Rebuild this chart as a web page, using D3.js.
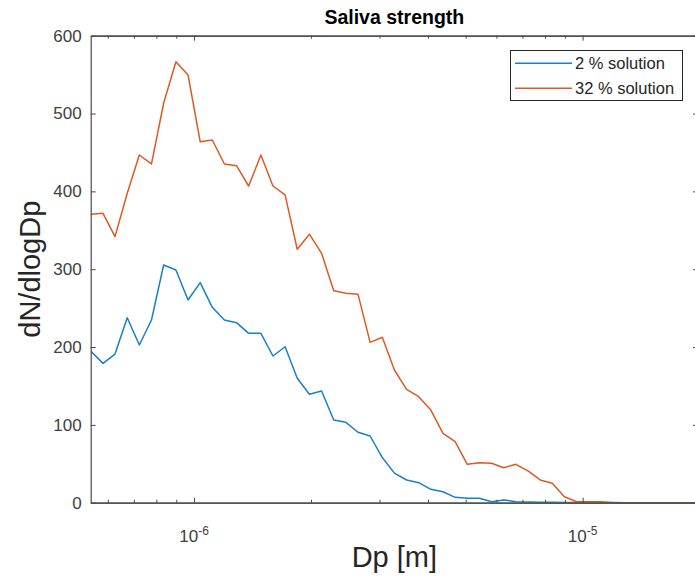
<!DOCTYPE html>
<html><head><meta charset="utf-8">
<script src="https://cdn.jsdelivr.net/npm/d3@7"></script>
<style>
body{margin:0;background:#fff}
svg{display:block}
text{font-family:"Liberation Sans",Arial,Helvetica,sans-serif}
</style>
</head><body>
<svg id="chart" width="695" height="579"></svg>
<script>
// ---- data ----
const diametersUm = [0.542,0.583,0.626,0.673,0.723,0.777,0.835,0.898,0.965,1.037,
  1.114,1.197,1.286,1.382,1.486,1.596,1.715,1.843,1.981,2.129,
  2.288,2.458,2.642,2.839,3.051,3.278,3.523,3.786,4.068,4.371,
  4.698,5.048,5.425,5.829,6.264,6.732,7.234,7.774,8.354,8.977,
  9.647,10.37,11.14,11.97,12.86,13.82,14.86,15.96,17.15,18.43,19.81];
const solution2 = [194.9,179,191,237.7,202.6,234.7,305.4,299,260.4,282.7,
  251,234.7,231.3,217.6,217.6,188.5,200.4,159.8,139.3,143.5,
  106.3,103.3,90.5,85.7,58,38,29.2,25.7,17.2,14.1,
  6.9,5.7,5.7,1.3,3.5,1.3,0.8,0.6,0.5,0.4,
  0.3,0.2,0.2,0.1,0,0,0,0,0,0,0];
const solution32 = [370.5,371.8,341.8,397.5,446.7,435.2,513.2,566.6,549.5,463.8,
  466,435.2,433,406.9,446.7,406.9,395.4,325.6,345,320.4,
  272.4,269,267.7,206,212.5,170.5,145.7,136.2,119,89,
  78.4,49.3,51.4,50.6,45,49.3,41,29.2,24.9,7.7,
  1.3,1.3,1.3,0,0,0,0,0,0,0,0];
const seriesNames = ["2 % solution","32 % solution"];
const seriesColors = ["#1a7fc6","#DE5a22"];
const yTicks = [0,100,200,300,400,500,600];
const xMajorTicks = [1e-6,1e-5];
const xMajorExponents = ["-6","-5"];
const xMinorTicks = [6e-7,7e-7,8e-7,9e-7,2e-6,3e-6,4e-6,5e-6,6e-6,7e-6,8e-6,9e-6];
const titleText = "Saliva strength";
const xLabel = "Dp [m]";
const yLabel = "dN/dlogDp";

// ---- layout ----
const L = 90.7, R = 698, T = 35.7, B = 502.7;
const axisColor = "#4a4a4a";
const svg = d3.select("#chart");

const dp = diametersUm.map(d => d * 1e-6);
const x = d3.scaleLog().domain([0.542e-6, 19.81e-6]).range([L, R]);
const y = d3.scaleLinear().domain([0, 600]).range([B, T]);

// clip
svg.append("defs").append("clipPath").attr("id","clip")
  .append("rect").attr("x",L).attr("y",T).attr("width",R-L).attr("height",B-T);

// lines
const series = [solution2, solution32];
const line = d3.line().x((d,i) => x(dp[i])).y(d => y(d));
const g = svg.append("g").attr("clip-path","url(#clip)");
series.forEach((s, k) => {
  g.append("path").datum(s).attr("d", line)
    .attr("fill","none").attr("stroke",seriesColors[k])
    .attr("stroke-width",1.5).attr("stroke-linejoin","round");
});

// axes box via d3 axes
const majLen = 5, minLen = 3;
const axB = svg.append("g").attr("transform",`translate(0,${B})`)
  .call(d3.axisBottom(x).tickValues(xMajorTicks).tickSizeInner(-majLen).tickSizeOuter(0).tickFormat(""));
const axBm = svg.append("g").attr("transform",`translate(0,${B})`)
  .call(d3.axisBottom(x).tickValues(xMinorTicks).tickSizeInner(-minLen).tickSizeOuter(0).tickFormat(""));
const axT = svg.append("g").attr("transform",`translate(0,${T})`)
  .call(d3.axisTop(x).tickValues(xMajorTicks).tickSizeInner(-majLen).tickSizeOuter(0).tickFormat(""));
const axTm = svg.append("g").attr("transform",`translate(0,${T})`)
  .call(d3.axisTop(x).tickValues(xMinorTicks).tickSizeInner(-minLen).tickSizeOuter(0).tickFormat(""));
const axL = svg.append("g").attr("transform",`translate(${L},0)`)
  .call(d3.axisLeft(y).tickValues(yTicks).tickSizeInner(-majLen).tickSizeOuter(0).tickPadding(9));
const axR = svg.append("g").attr("transform",`translate(${R},0)`)
  .call(d3.axisRight(y).tickValues(yTicks).tickSizeInner(-majLen).tickSizeOuter(0).tickFormat(""));

[axB,axBm,axT,axTm,axL,axR].forEach(a => {
  a.select(".domain").attr("stroke",axisColor).attr("stroke-width",1.2);
  a.selectAll(".tick line").attr("stroke",axisColor).attr("stroke-width",1);
});
axL.selectAll(".tick text").attr("fill","#404040").style("font-size","17px")
  .style("font-family",'"Liberation Sans",Arial,sans-serif');

// x tick labels 10^n
const xl = svg.append("g");
xMajorTicks.forEach((v,i) => {
  const t = xl.append("text").attr("x", x(v)).attr("y", 542)
    .attr("text-anchor","middle").attr("fill","#404040").style("font-size","17px");
  t.append("tspan").text("10");
  t.append("tspan").attr("dy",-7).style("font-size","12px").text(xMajorExponents[i]);
});

// title and labels
svg.append("text").attr("x",(L+R)/2).attr("y",23.5).attr("text-anchor","middle")
  .style("font-size","19.5px").style("font-weight","bold").attr("fill","#000").text(titleText);
svg.append("text").attr("x",(L+R)/2).attr("y",567).attr("text-anchor","middle")
  .style("font-size","29px").attr("fill","#262626").text(xLabel);
svg.append("text").attr("transform",`translate(40,${(T+B)/2}) rotate(-90)`)
  .attr("text-anchor","middle").style("font-size","29px").attr("fill","#262626").text(yLabel);

// legend
const lg = svg.append("g");
lg.append("rect").attr("x",510.5).attr("y",50.5).attr("width",172).attr("height",50)
  .attr("fill","#fff").attr("stroke","#262626").attr("stroke-width",1);
seriesNames.forEach((n,i) => {
  const yy = 63.3 + i*25;
  lg.append("line").attr("x1",515).attr("x2",572).attr("y1",yy).attr("y2",yy)
    .attr("stroke",seriesColors[i]).attr("stroke-width",1.5);
  lg.append("text").attr("x",575).attr("y",yy).attr("dy","0.35em")
    .style("font-size","16.5px").attr("fill","#262626").text(n);
});
</script>
</body></html>
